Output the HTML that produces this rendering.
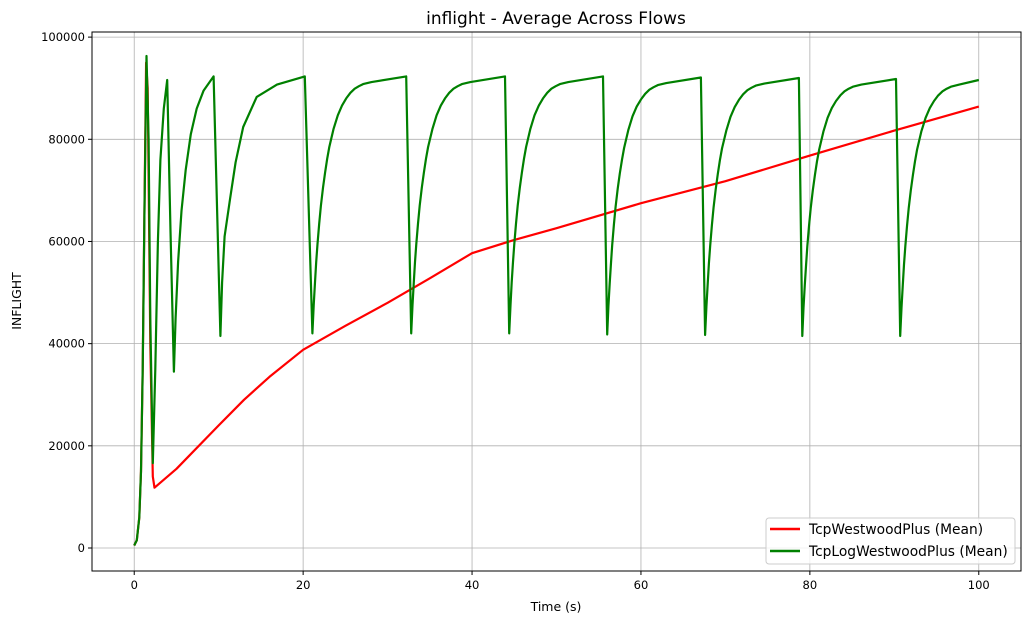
<!DOCTYPE html>
<html><head><meta charset="utf-8"><style>
body{margin:0;background:#fff;}
svg text{font-family:"DejaVu Sans","Liberation Sans",sans-serif;}
</style></head><body>
<svg id="chart" width="1031" height="624" viewBox="0 0 1031 624" xmlns="http://www.w3.org/2000/svg">
<text x="556" y="24" font-size="17" text-anchor="middle">inflight - Average Across Flows</text>
<g id="grid"></g>
<g id="series"></g>
<rect x="92" y="32" width="929" height="539" fill="none" stroke="#000" stroke-width="1"/>
<g id="ticks"></g>
<text x="556" y="611" font-size="12.5" text-anchor="middle">Time (s)</text>
<text transform="translate(21,301) rotate(-90)" font-size="12.5" text-anchor="middle">INFLIGHT</text>
<g>
<rect x="766" y="518" width="249" height="46" rx="3" fill="#fff" fill-opacity="0.8" stroke="#ccc"/>
<g><line x1="770" y1="529" x2="800" y2="529" stroke="#ff0000" stroke-width="2.5"/><text x="809" y="534" font-size="13.8">TcpWestwoodPlus (Mean)</text></g>
<g><line x1="770" y1="551" x2="800" y2="551" stroke="#008000" stroke-width="2.5"/><text x="809" y="556" font-size="13.8">TcpLogWestwoodPlus (Mean)</text></g>
</g>
</svg>
<script>
const xTicks=[0,20,40,60,80,100];
const yTicks=[0,20000,40000,60000,80000,100000];
const redT=[0,0.3,0.6,0.8,1.0,1.2,1.4,1.6,1.9,2.2,2.4,5,10,13,16,20,25,30,35,40,45,50,60,70,80,90,100];
const redV=[500,1500,6000,15000,35000,65000,95000,90000,40000,14000,11800,15500,24000,29000,33500,38800,43500,48000,52800,57700,60300,62600,67500,71800,76800,81700,86400];
const greenT=[0,0.3,0.6,0.8,1.0,1.2,1.45,1.7,1.9,2.2,2.5,2.8,3.1,3.5,3.9,4.3,4.7,4.9,5.2,5.6,6.1,6.7,7.4,8.2,9.4,10.2,10.4,10.7,11.35,12,12.9,14.5,16.9,20.2];
const greenV=[500,1500,6000,15000,35000,65000,96300,80000,45000,16600,35000,60000,76000,86000,91600,62000,34500,45000,56000,66000,74000,81000,86000,89500,92300,41500,52000,61000,68400,75500,82400,88300,90700,92300];
const dips=[21.1,32.8,44.4,56.0,67.6,79.1,90.7];
const dipVals=[42000,42000,42000,41800,41700,41500,41500];
const recT=[0,0.15,0.3,0.45,0.6,0.8,1,1.25,1.5,1.75,2,2.5,3,3.5,4,4.5,5,5.5,6,7,11.1];
const recV=[0,5500,10000,14000,17500,21500,25000,28500,31500,34200,36500,40000,42700,44600,46000,47100,47900,48400,48800,49200,50300];
const xMin=-5,xMax=105,yMin=-4500,yMax=101000,L=92,R=1021,T=32,B=571;
const sx=v=>L+(v-xMin)/(xMax-xMin)*(R-L);
const sy=v=>B-(v-yMin)/(yMax-yMin)*(B-T);
const NS="http://www.w3.org/2000/svg";
const grid=document.getElementById('grid'),ticks=document.getElementById('ticks'),ser=document.getElementById('series');
function mk(tag,attrs,parent){const e=document.createElementNS(NS,tag);for(const k in attrs)e.setAttribute(k,attrs[k]);parent.appendChild(e);return e;}
xTicks.forEach(t=>{
 const g=mk('line',{x1:sx(t),x2:sx(t),y1:T,y2:B,stroke:'#b0b0b0','stroke-width':0.8},grid);
 
 
 mk('line',{x1:sx(t),x2:sx(t),y1:B,y2:B+4,stroke:'#000'},ticks);
 const tx=mk('text',{x:sx(t),y:B+18,'font-size':11.5,'text-anchor':'middle'},ticks);tx.textContent=t;
 
 
});
yTicks.forEach(t=>{
 const g=mk('line',{x1:L,x2:R,y1:sy(t),y2:sy(t),stroke:'#b0b0b0','stroke-width':0.8},grid);
 
 
 mk('line',{x1:L-4,x2:L,y1:sy(t),y2:sy(t),stroke:'#000'},ticks);
 const tx=mk('text',{x:L-7,y:sy(t)+4,'font-size':11.5,'text-anchor':'end'},ticks);tx.textContent=t;
 
 
});
const gT=greenT.slice(),gV=greenV.slice();
dips.forEach((d,i)=>{
 recT.forEach((r,j)=>{const t=d+r;if(t<=100.01){gT.push(t);gV.push(dipVals[i]+recV[j]);}});
});
gT.push(100);gV.push(91600);
function path(ts,vs){return ts.map((t,i)=>(i?'L':'M')+sx(t).toFixed(1)+','+sy(vs[i]).toFixed(1)).join(' ');}
const pr=mk('path',{d:path(redT,redV),fill:'none',stroke:'#ff0000','stroke-width':2.2,'stroke-linejoin':'round'},ser);


const pg=mk('path',{d:path(gT,gV),fill:'none',stroke:'#008000','stroke-width':2.2,'stroke-linejoin':'round'},ser);


</script>
</body></html>
